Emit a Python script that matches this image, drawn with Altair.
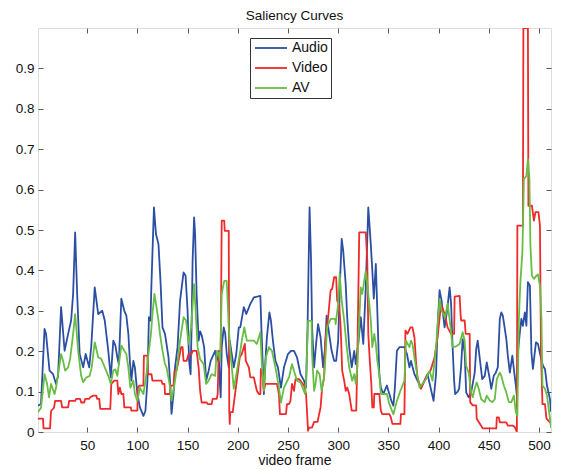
import altair as alt
import pandas as pd

# ---------------- data (frame, saliency) ----------------
audio_points = [
    (1, 0.065), (4, 0.07), (7.5, 0.255), (9, 0.243), (12.5, 0.152), (16, 0.143), (19, 0.119), (21, 0.139),
    (24, 0.309), (27.5, 0.201), (31, 0.243), (34, 0.276), (36, 0.342), (38, 0.494), (40, 0.342), (42.5, 0.193),
    (46, 0.160), (48.5, 0.193), (52, 0.160), (54, 0.210), (57.5, 0.358), (61, 0.292), (65, 0.300), (67.5, 0.276),
    (71, 0.201), (73.5, 0.135), (76, 0.226), (78, 0.215), (80, 0.185), (81.5, 0.168), (84, 0.330), (87, 0.300),
    (89, 0.288), (91, 0.243), (92.5, 0.176), (94, 0.127), (96, 0.176), (97.5, 0.160), (100, 0.094), (102.5, 0.061),
    (106, 0.040), (108, 0.052), (110, 0.127), (111.5, 0.284), (113, 0.276), (114, 0.366), (116.5, 0.556), (118.5, 0.490),
    (121, 0.465), (123, 0.374), (125, 0.259), (127.5, 0.243), (129, 0.218), (131, 0.185), (132.5, 0.127), (134, 0.045),
    (136, 0.094), (137.5, 0.160), (140, 0.210), (142.5, 0.325), (146, 0.395), (148, 0.387), (150, 0.300), (151.5, 0.176),
    (153, 0.143), (154, 0.259), (155, 0.424), (156.5, 0.531), (157.5, 0.490), (159, 0.342), (161, 0.226), (162.5, 0.249),
    (164, 0.240), (166.5, 0.210), (168.5, 0.127), (171, 0.152), (173, 0.176), (177.5, 0.201), (179, 0.176), (181, 0.193),
    (182, 0.127), (183, 0.086), (184, 0.210), (186, 0.259), (187.5, 0.243), (189, 0.193), (191, 0.160), (192, 0.226),
    (193.5, 0.201), (196, 0.160), (198.5, 0.193), (201, 0.259), (202.5, 0.259), (206, 0.309), (208.5, 0.292), (212.5, 0.317),
    (216, 0.333), (222.5, 0.337), (223.5, 0.259), (226, 0.094), (227.5, 0.176), (229, 0.234), (231.5, 0.296), (233, 0.276),
    (235, 0.226), (237.5, 0.176), (240, 0.160), (243, 0.110), (246, 0.160), (250, 0.193), (253, 0.201), (256, 0.201),
    (259, 0.185), (262.5, 0.143), (266, 0.127), (268, 0.110), (269.5, 0.259), (271.5, 0.556), (273, 0.424), (274, 0.259),
    (276, 0.160), (278, 0.218), (280, 0.267), (282.5, 0.234), (285, 0.160), (287, 0.210), (288.5, 0.288), (291, 0.243),
    (293.5, 0.201), (296, 0.176), (298, 0.176), (300, 0.226), (302, 0.383), (303.5, 0.478), (305, 0.449), (307.5, 0.366),
    (309, 0.284), (311, 0.210), (313.5, 0.160), (316, 0.201), (317.5, 0.168), (320, 0.218), (322.5, 0.284), (325, 0.218),
    (327.5, 0.358), (330, 0.556), (332.5, 0.465), (334, 0.400), (335.5, 0.330), (337.5, 0.416), (339, 0.300), (341, 0.143),
    (342.5, 0.110), (345, 0.094), (348.5, 0.115), (351, 0.094), (353, 0.077), (355, 0.065), (356.5, 0.110), (358.5, 0.201),
    (361, 0.210), (366, 0.210), (368.5, 0.193), (371, 0.160), (372.5, 0.176), (376, 0.143), (379, 0.127), (382.5, 0.110),
    (386, 0.127), (389, 0.143), (392, 0.110), (395, 0.077), (397.5, 0.143), (399, 0.259), (401, 0.351), (403, 0.325),
    (406, 0.259), (408.5, 0.300), (411, 0.358), (412.5, 0.317), (414, 0.210), (415.5, 0.127), (416.5, 0.094), (419, 0.100),
    (420.5, 0.107), (422.5, 0.164), (424, 0.230), (426, 0.197), (427.5, 0.098), (430, 0.086), (432.5, 0.098), (436, 0.147),
    (437.5, 0.205), (439, 0.226), (441.5, 0.172), (443.5, 0.131), (446, 0.139), (448, 0.172), (451, 0.131), (452.5, 0.107),
    (455, 0.139), (457, 0.147), (459, 0.160), (461, 0.280), (462.5, 0.296), (464, 0.288), (466, 0.255), (467.5, 0.230),
    (469, 0.189), (471, 0.147), (473.5, 0.189), (475, 0.156), (477, 0.115), (478, 0.090), (479, 0.197), (481, 0.247),
    (482.5, 0.280), (484, 0.263), (486, 0.296), (487.5, 0.263), (489, 0.371), (491, 0.362), (492.5, 0.197), (494, 0.156),
    (497, 0.222), (499, 0.218), (501.5, 0.189), (504, 0.164), (506, 0.156), (508, 0.115), (511, 0.081), (512, 0.05),
]

video_points = [
    (1, 0.033), (6, 0.033), (6.5, 0.009), (13, 0.009), (14, 0.052), (17, 0.06), (18, 0.077), (24, 0.077),
    (25, 0.061), (31, 0.061), (32, 0.077), (38, 0.077), (39, 0.082), (43, 0.082), (44, 0.073), (47, 0.073),
    (48, 0.082), (52, 0.082), (53, 0.086), (56, 0.09), (59, 0.09), (60, 0.082), (62, 0.082), (63, 0.057),
    (73, 0.057), (74, 0.119), (77, 0.127), (80, 0.127), (81, 0.094), (82.5, 0.11), (84, 0.094), (86, 0.094),
    (87, 0.061), (93.5, 0.061), (94, 0.053), (100, 0.053), (100.5, 0.11), (102, 0.115), (106, 0.115), (106.5, 0.189),
    (110, 0.189), (110.5, 0.143), (114, 0.143), (115, 0.127), (124, 0.127), (125, 0.119), (127, 0.119), (127.5, 0.094),
    (132.5, 0.094), (133, 0.115), (136, 0.115), (137, 0.152), (139, 0.152), (141, 0.176), (143.5, 0.21), (145, 0.21),
    (146, 0.176), (149, 0.176), (151, 0.193), (154, 0.193), (155, 0.201), (159, 0.201), (161, 0.16), (162.5, 0.102),
    (164, 0.073), (169, 0.073), (170, 0.069), (174, 0.069), (175, 0.082), (179, 0.082), (180, 0.094), (181, 0.201),
    (183, 0.201), (184, 0.523), (186.5, 0.523), (187, 0.498), (191, 0.498), (191.5, 0.053), (192, 0.020), (192.5, 0.049),
    (195, 0.049), (196, 0.069), (199, 0.127), (202, 0.185), (204, 0.193), (207, 0.218), (208, 0.176), (211, 0.160),
    (212.5, 0.135), (216, 0.135), (219, 0.102), (221, 0.094), (222.5, 0.094), (223, 0.156), (224.5, 0.150), (226, 0.102),
    (227.5, 0.119), (239, 0.119), (241, 0.094), (242, 0.044), (248, 0.044), (249, 0.069), (251, 0.069), (252.5, 0.077),
    (254, 0.119), (256, 0.102), (257.5, 0.131), (261, 0.131), (262.5, 0.127), (266, 0.115), (268, 0.094), (270, 0.003),
    (271, 0.011), (274, 0.011), (276, 0.025), (279.5, 0.025), (281, 0.044), (282.5, 0.061), (284, 0.110), (286, 0.135),
    (287, 0.218), (289, 0.267), (290, 0.284), (292.5, 0.351), (294, 0.354), (296, 0.383), (298, 0.383), (299, 0.325),
    (301, 0.317), (302.5, 0.259), (304, 0.152), (306, 0.127), (307.5, 0.102), (309, 0.110), (311, 0.094), (313.5, 0.053),
    (318, 0.053), (319, 0.168), (321, 0.494), (327.5, 0.494), (329, 0.424), (330, 0.243), (331.5, 0.176), (333, 0.12),
    (334, 0.061), (335.5, 0.061), (336, 0.094), (341, 0.094), (342.5, 0.053), (344, 0.044), (351, 0.044), (352.5, 0.036),
    (354, 0.020), (362, 0.020), (362.5, 0.044), (366, 0.044), (367, 0.251), (369, 0.243), (372, 0.259), (374, 0.259),
    (376, 0.234), (377.5, 0.176), (379, 0.135), (382.5, 0.107), (386, 0.127), (389, 0.143), (392, 0.152), (394, 0.168),
    (396, 0.185), (399, 0.234), (402.5, 0.317), (406, 0.292), (409, 0.259), (412.5, 0.243), (415.5, 0.243), (416, 0.335),
    (421, 0.337), (422, 0.288), (422.5, 0.276), (426, 0.276), (427, 0.243), (431, 0.243), (431.5, 0.074), (434, 0.066),
    (437.5, 0.066), (438, 0.033), (441, 0.021), (444, 0.009), (457.5, 0.009), (458, 0.036), (460, 0.036), (461, 0.024),
    (467.5, 0.024), (469, 0.016), (474, 0.016), (476, 0.012), (478, 0.0), (478.5, 0.511), (484, 0.511), (484.5, 1.0),
    (489, 1.0), (489.5, 0.560), (493, 0.560), (495, 0.523), (496.5, 0.544), (499.5, 0.544), (501, 0.511), (502, 0.197),
    (503.5, 0.069), (506, 0.069), (507.5, 0.033), (511, 0.024), (512, 0.024),
]

av_points = [
    (1, 0.049), (4, 0.06), (7.5, 0.143), (10, 0.12), (12, 0.086), (14, 0.119), (17.5, 0.094), (19, 0.110),
    (24, 0.193), (26, 0.176), (28, 0.152), (31, 0.16), (33, 0.181), (36, 0.243), (38, 0.292), (41, 0.201),
    (44, 0.139), (46, 0.123), (49, 0.135), (52.5, 0.139), (54.5, 0.16), (57.5, 0.222), (61, 0.185), (64, 0.181),
    (67.5, 0.160), (71, 0.139), (73.5, 0.119), (76, 0.152), (78, 0.155), (80, 0.139), (84, 0.214), (87, 0.201),
    (89, 0.193), (91, 0.160), (93, 0.110), (96, 0.127), (97.5, 0.094), (100, 0.077), (102.5, 0.110), (106, 0.094),
    (109, 0.143), (111, 0.193), (113.5, 0.243), (115, 0.292), (117, 0.342), (119, 0.309), (121, 0.276), (122.5, 0.243),
    (125, 0.201), (127.5, 0.168), (129, 0.160), (132, 0.119), (134, 0.077), (137, 0.119), (139, 0.152), (142.5, 0.226),
    (146, 0.284), (148.5, 0.276), (151, 0.218), (153.5, 0.259), (156.5, 0.366), (158, 0.300), (160, 0.210), (162.5, 0.180),
    (166, 0.168), (168.5, 0.119), (171, 0.127), (174, 0.143), (177.5, 0.139), (179, 0.201), (181, 0.193), (182.5, 0.176),
    (184, 0.342), (186.5, 0.374), (189, 0.374), (190, 0.317), (191, 0.259), (192.5, 0.201), (195, 0.135), (196, 0.107),
    (197.5, 0.127), (202, 0.193), (204, 0.226), (206.5, 0.259), (209, 0.226), (216, 0.226), (219, 0.218), (222.5, 0.247),
    (224, 0.168), (226, 0.102), (228, 0.185), (231, 0.210), (234, 0.201), (237.5, 0.160), (241, 0.110), (243, 0.073),
    (246, 0.110), (249, 0.125), (251, 0.135), (254, 0.168), (257, 0.143), (259, 0.127), (262.5, 0.123), (265, 0.107),
    (267, 0.094), (268, 0.127), (270, 0.275), (273.5, 0.275), (274, 0.193), (276, 0.102), (277.5, 0.119), (279, 0.152),
    (281.5, 0.143), (283.5, 0.102), (286, 0.135), (287.5, 0.193), (289, 0.259), (292.5, 0.280), (297, 0.280), (297.5, 0.267),
    (300, 0.317), (301.5, 0.391), (303.5, 0.325), (306, 0.276), (308.5, 0.210), (311, 0.160), (314, 0.127), (316, 0.143),
    (317.5, 0.119), (319, 0.160), (321, 0.276), (322.5, 0.358), (324, 0.342), (327.5, 0.399), (329, 0.366), (331, 0.317),
    (332.5, 0.276), (334, 0.210), (336, 0.243), (337.5, 0.218), (339, 0.176), (341, 0.143), (342.5, 0.094), (348.5, 0.094),
    (351, 0.069), (355, 0.044), (358.5, 0.077), (362, 0.102), (366, 0.127), (367.5, 0.226), (371, 0.210), (372.5, 0.226),
    (374, 0.218), (377.5, 0.160), (381, 0.110), (384, 0.119), (387.5, 0.131), (391, 0.152), (394, 0.127), (397.5, 0.210),
    (401, 0.330), (403, 0.300), (406.5, 0.284), (409, 0.317), (412, 0.259), (414, 0.210), (417.5, 0.212), (421, 0.218),
    (424, 0.247), (426, 0.226), (427.5, 0.164), (430, 0.147), (432.5, 0.098), (434, 0.086), (436, 0.107), (438, 0.123),
    (440, 0.107), (442.5, 0.081), (446, 0.074), (448, 0.090), (451, 0.078), (453.5, 0.074), (456, 0.081), (458, 0.131),
    (461, 0.147), (462.5, 0.139), (465, 0.115), (467.5, 0.098), (470, 0.074), (472.5, 0.074), (475, 0.090), (477, 0.049),
    (478.5, 0.040), (479, 0.123), (480, 0.280), (481.5, 0.371), (483.5, 0.445), (485, 0.626), (487.5, 0.634), (489, 0.676),
    (490.5, 0.626), (491.5, 0.461), (493, 0.387), (495, 0.379), (497.5, 0.387), (499, 0.390), (501, 0.362), (502.5, 0.280),
    (503.5, 0.115), (506, 0.107), (508, 0.090), (511, 0.033), (512, 0.01),
]

series_names = ["Audio", "Video", "AV"]
series_colors = ["#2c4fa3", "#ee2a2a", "#68bd45"]
x_tick_values = [50, 100, 150, 200, 250, 300, 350, 400, 450, 500]
y_tick_values = [0, 0.1, 0.2, 0.3, 0.4, 0.5, 0.6, 0.7, 0.8, 0.9]
x_limits = [1, 512]
y_limits = [0, 1]

# ---------------- build table ----------------
frames = []
for name, pts in zip(series_names, [audio_points, video_points, av_points]):
    d = pd.DataFrame(pts, columns=["frame", "value"])
    d["series"] = name
    frames.append(d)
data = pd.concat(frames, ignore_index=True)

FONT = "Liberation Sans"
FRAME = "#5a5a5a"
TXT = "#111111"
inward = alt.ExprRef(expr="-5")

x_scale = alt.Scale(domain=x_limits, nice=False, zero=False)
y_scale = alt.Scale(domain=y_limits, nice=False, zero=False)
color_scale = alt.Scale(domain=series_names, range=series_colors)

x_axis = alt.Axis(values=x_tick_values, title="video frame", grid=False, domain=False,
                  tickSize=inward, tickColor=FRAME, labelPadding=11, labelFont=FONT,
                  labelFontSize=13.5, labelColor=TXT, titleFont=FONT, titleFontSize=14,
                  titleFontWeight="normal", titleColor=TXT, titlePadding=2)
y_axis = alt.Axis(values=y_tick_values, format="~g", title=None, grid=False, domain=False,
                  tickSize=inward, tickColor=FRAME, labelPadding=9, labelFont=FONT,
                  labelFontSize=13.5, labelColor=TXT)
x_axis_top = alt.Axis(orient="top", values=x_tick_values, labels=False, title=None, grid=False,
                      domain=False, tickSize=inward, tickColor=FRAME)
y_axis_right = alt.Axis(orient="right", values=y_tick_values, labels=False, title=None, grid=False,
                        domain=False, tickSize=inward, tickColor=FRAME)

legend = alt.Legend(orient="none", legendX=212, legendY=10, title=None, direction="vertical",
                    fillColor="white", strokeColor="#333333", padding=3,
                    symbolType="M-3.2,0L3.2,0", symbolSize=100, symbolStrokeWidth=1.8,
                    symbolOffset=11, labelOffset=14, rowPadding=6,
                    labelFont=FONT, labelFontSize=14, labelColor=TXT)

base = alt.Chart(data)


def series_layer(name, show_axes):
    return base.transform_filter(alt.datum.series == name).mark_line(
        strokeWidth=1.8, clip=True, strokeJoin="round"
    ).encode(
        x=alt.X("frame:Q", scale=x_scale, axis=x_axis if show_axes else None),
        y=alt.Y("value:Q", scale=y_scale, axis=y_axis if show_axes else None),
        color=alt.Color("series:N", scale=color_scale, legend=legend),
        order=alt.Order("frame:Q"),
    )


ghost = base.transform_filter(alt.datum.series == "Audio").mark_line(strokeOpacity=0).encode(
    x=alt.X("frame:Q", scale=x_scale, axis=x_axis_top),
    y=alt.Y("value:Q", scale=y_scale, axis=y_axis_right),
)

chart = alt.layer(
    series_layer("Audio", True),
    series_layer("Video", False),
    series_layer("AV", False),
    ghost,
).resolve_axis(x="independent", y="independent").properties(
    width=513,
    height=404,
    title=alt.TitleParams("Saliency Curves", font=FONT, fontSize=13.5, fontWeight="normal",
                          color=TXT, anchor="middle", offset=5),
    padding={"left": 30, "top": 20, "right": 4, "bottom": 40},
    autosize=alt.AutoSizeParams(type="none"),
).configure_view(stroke=FRAME, strokeWidth=1).configure(background="white")

chart.save("out.html", embed_options={"renderer": "svg", "actions": False})
